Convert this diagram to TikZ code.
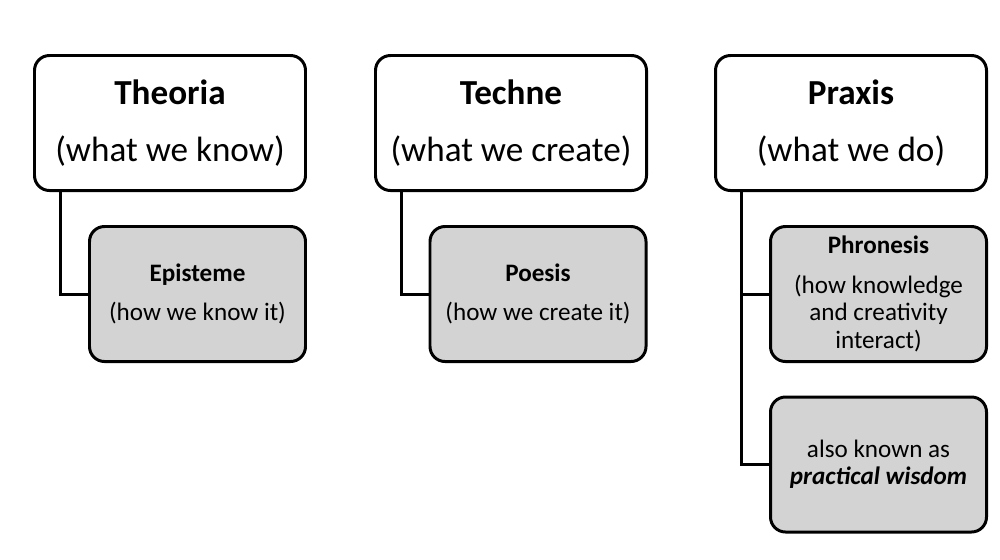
\documentclass[tikz,border=0pt]{standalone}
\usepackage{fontspec}
\setmainfont{Carlito}
\usepackage{tikz}
\definecolor{subgray}{RGB}{211,211,211}

\begin{document}
\begin{tikzpicture}[x=0.2mm, y=-0.2mm,
    topbox/.style={draw, line width=1.7pt, rounded corners=3mm, fill=white, minimum width=54.2mm, minimum height=27mm, align=center, inner sep=0pt, font=\fontsize{20}{32}\selectfont},
    subbox/.style={draw, line width=1.7pt, rounded corners=3mm, fill=subgray, minimum width=43.2mm, minimum height=27mm, align=center, inner sep=0pt, font=\fontsize{14.3}{15.6}\selectfont},
    link/.style={line width=1.7pt}]
          \useasboundingbox (0, 0) rectangle (1000, 559);
          \node [topbox] (theoria) at (170, 123) {\textbf{Theoria}\\(what we know)};
          \node [topbox] (techne) at (511, 123) {\textbf{Techne}\\(what we create)};
          \node [topbox] (praxis) at (851, 123) {\textbf{Praxis}\\(what we do)};
          \node [subbox] (episteme) at (197.5, 294) {\textbf{Episteme}\\[7pt](how we know it)};
          \node [subbox] (poesis) at (538, 294) {\textbf{Poesis}\\[7pt](how we create it)};
          \node [subbox] (phronesis) at (878.5, 294) {\textbf{Phronesis}\\[7pt](how knowledge\\and creativity\\interact)};
          \node [subbox] (wisdom) at (878.5, 464.5) {also known as\\\textbf{\textit{practical wisdom}}};
          \coordinate (theoria-stem) at ([xshift=5.56mm]theoria.south west);
          \coordinate (techne-stem) at ([xshift=5.56mm]techne.south west);
          \coordinate (praxis-stem) at ([xshift=5.56mm]praxis.south west);
          \draw [link] (theoria-stem) |- (episteme.west);
          \draw [link] (techne-stem) |- (poesis.west);
          \draw [link] (praxis-stem) |- (phronesis.west);
          \draw [link] (praxis-stem) |- (wisdom.west);
        \end{tikzpicture}
\end{document}
